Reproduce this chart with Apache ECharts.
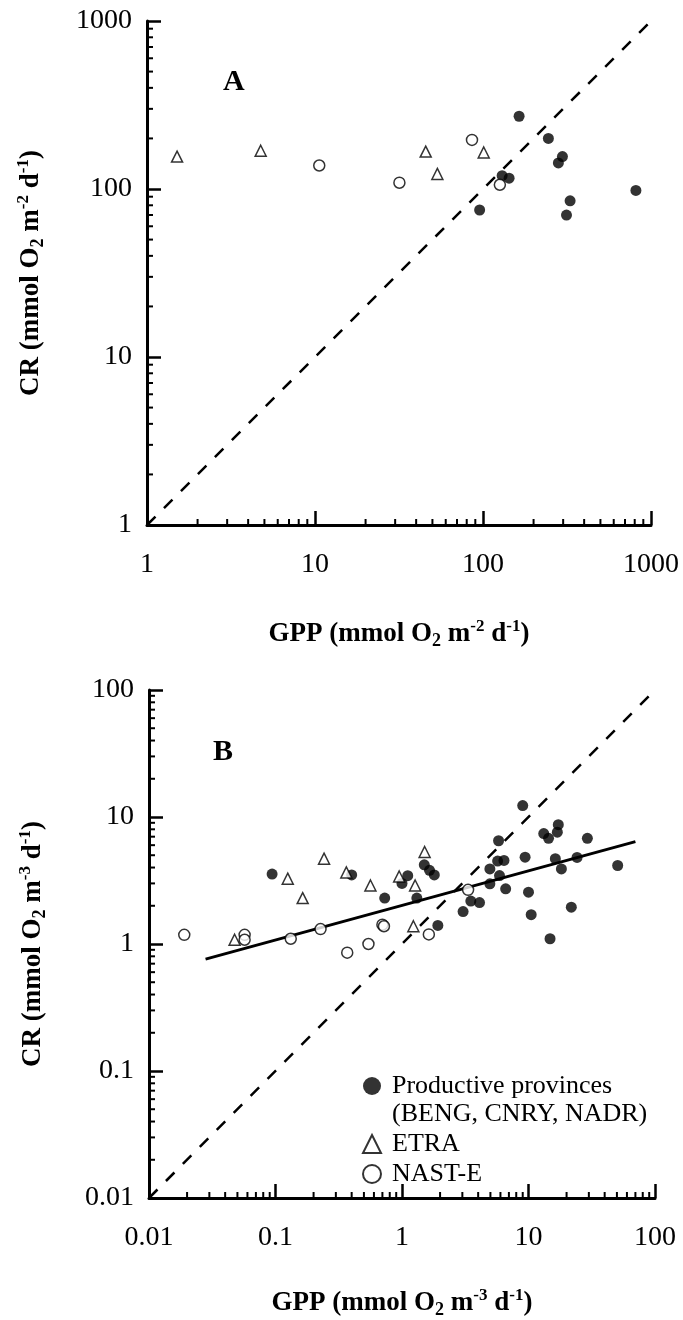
<!DOCTYPE html>
<html>
<head>
<meta charset="utf-8">
<script src="https://cdn.jsdelivr.net/npm/echarts@6/dist/echarts.min.js"></script>
<style>
  html, body { margin: 0; padding: 0; background: #fff; }
  #chart { width: 683px; height: 1320px; }
</style>
</head>
<body>
<div id="chart"></div>
<script>
// panel A: areal rates (mmol O2 m-2 d-1), [GPP, CR]
const prodA = [[164, 271], [245, 200], [281, 143], [297, 156], [130, 120], [143, 116],
  [95.5, 75], [330, 85], [314, 70], [813, 98]];
const etraA = [[1.51, 156], [4.75, 169], [45.6, 167], [101, 165], [53.5, 123]];
const nastA = [[10.6, 138], [31.8, 109], [86, 196], [126, 106]];
const oneToOneA = [[1, 1], [1000, 1000]];

// panel B: volumetric rates (mmol O2 m-3 d-1), [GPP, CR]
const prodB = [[0.094, 3.55], [0.40, 3.5], [0.73, 2.3], [1.0, 3.0], [1.11, 3.45], [1.31, 2.3],
  [1.5, 4.2], [1.65, 3.8], [1.8, 3.5], [1.92, 1.4], [3.04, 1.8], [3.5, 2.18], [4.1, 2.12],
  [4.95, 2.98], [4.95, 3.9], [5.7, 4.5], [5.8, 6.5], [5.9, 3.46], [6.4, 4.55], [6.6, 2.72],
  [9.0, 12.3], [9.4, 4.83], [10.0, 2.56], [10.5, 1.7], [13.2, 7.4], [14.4, 6.8], [14.8, 1.1],
  [16.3, 4.7], [16.9, 7.6], [17.2, 8.7], [18.2, 3.9], [21.8, 1.95], [24.2, 4.8], [29.2, 6.8],
  [50.7, 4.15]];
const etraB = [[0.0475, 1.08], [0.125, 3.27], [0.164, 2.3], [0.242, 4.7], [0.363, 3.66],
  [0.563, 2.89], [0.95, 3.4], [1.27, 2.89], [1.51, 5.3], [1.23, 1.38]];
const nastB = [[0.019, 1.18], [0.057, 1.18], [0.057, 1.08], [0.132, 1.10], [0.227, 1.31],
  [0.369, 0.855], [0.543, 1.0], [0.70, 1.42], [0.72, 1.38], [1.63, 1.19], [3.33, 2.67]];
const oneToOneB = [[0.01, 0.01], [100, 100]];
const fitB = [[0.028, 0.76], [70, 6.4]];

const tickLabelsA = ['1', '10', '100', '1000'];
const tickLabelsB = ['0.01', '0.1', '1', '10', '100'];

const SERIF = '"Liberation Serif", "DejaVu Serif", serif';
const chart = echarts.init(document.getElementById('chart'));

// minor tick values 2..9 in each decade between lo and hi
function minorValues(lo, hi) {
  const out = [];
  for (let d = lo; d < hi * 0.99; d *= 10) {
    for (let k = 2; k <= 9; k++) out.push(+(d * k).toPrecision(3));
  }
  return out;
}

const nameRich = {
  t: { fontFamily: SERIF, fontWeight: 'bold', fontSize: 27, color: '#000' },
  sub: { fontFamily: SERIF, fontWeight: 'bold', fontSize: 18, color: '#000', padding: [14, 0, 0, 0] },
  sup: { fontFamily: SERIF, fontWeight: 'bold', fontSize: 17, color: '#000', padding: [0, 0, 14, 0] }
};

function logAxis(gridIndex, min, max, labels, name, nameGap, vertical) {
  return {
    type: 'log',
    logBase: 10,
    gridIndex: gridIndex,
    min: min,
    max: max,
    splitNumber: labels.length - 1,
    name: name,
    nameLocation: 'middle',
    nameGap: nameGap,
    nameRotate: vertical ? 90 : 0,
    nameTextStyle: { rich: nameRich },
    axisLine: { lineStyle: { color: '#000', width: 3 } },
    axisTick: { inside: true, length: 14, lineStyle: { color: '#000', width: 2.5 } },
    splitLine: { show: false },
    axisLabel: {
      fontFamily: SERIF,
      fontSize: 28,
      color: '#000',
      margin: vertical ? 15 : 26,
      formatter: (v) => labels[Math.round(Math.log10(v / min))]
    }
  };
}

function minorTicks(xi, yi, values, dir, xMin, yMin) {
  return {
    type: 'custom',
    xAxisIndex: xi,
    yAxisIndex: yi,
    silent: true,
    clip: false,
    z: 5,
    data: values.map((v) => (dir === 'x' ? [v, yMin] : [xMin, v])),
    renderItem: (params, api) => {
      const p = api.coord([api.value(0), api.value(1)]);
      const len = 6;
      return {
        type: 'line',
        shape: { x1: p[0], y1: p[1], x2: dir === 'x' ? p[0] : p[0] + len, y2: dir === 'x' ? p[1] - len : p[1] },
        style: { stroke: '#000', lineWidth: 2 }
      };
    }
  };
}

function scatter(name, xi, data, kind) {
  const filled = kind === 'prod';
  return {
    name: name,
    type: 'scatter',
    xAxisIndex: xi,
    yAxisIndex: xi,
    data: data,
    symbol: kind === 'etra' ? 'triangle' : 'circle',
    symbolSize: 11,
    itemStyle: {
      color: filled ? '#000' : '#fff',
      borderColor: '#000',
      borderWidth: filled ? 0 : 1.5
    },
    z: 3
  };
}

function dashed(xi, data) {
  return {
    type: 'line', xAxisIndex: xi, yAxisIndex: xi, data: data,
    symbol: 'none', silent: true, z: 2,
    lineStyle: { color: '#000', width: 2.5, type: [12, 12] }
  };
}

const gppA = '{t|GPP (mmol O}{sub|2}{t| m}{sup|-2}{t| d}{sup|-1}{t|)}';
const crA = '{t|CR (mmol O}{sub|2}{t| m}{sup|-2}{t| d}{sup|-1}{t|)}';
const gppB = '{t|GPP (mmol O}{sub|2}{t| m}{sup|-3}{t| d}{sup|-1}{t|)}';
const crB = '{t|CR (mmol O}{sub|2}{t| m}{sup|-3}{t| d}{sup|-1}{t|)}';

const legendText = {
  'Productive provinces': '{s| }\n{s| }Productive provinces\n{s| }(BENG, CNRY, NADR)',
  'ETRA': '{s| }ETRA',
  'NAST-E': '{s| }NAST-E'
};

const option = {
  animation: false,
  backgroundColor: '#fff',
  title: [
    { text: 'A', left: 218, top: 62, textStyle: { fontFamily: SERIF, fontWeight: 'bold', fontSize: 30, color: '#000' } },
    { text: 'B', left: 208, top: 732, textStyle: { fontFamily: SERIF, fontWeight: 'bold', fontSize: 30, color: '#000' } }
  ],
  grid: [
    { left: 147, top: 21, width: 504, height: 504 },
    { left: 149, top: 690, width: 506, height: 512 }
  ],
  xAxis: [
    logAxis(0, 1, 1000, tickLabelsA, gppA, 93, false),
    logAxis(1, 0.01, 100, tickLabelsB, gppB, 89, false)
  ],
  yAxis: [
    logAxis(0, 1, 1000, tickLabelsA, crA, 100, true),
    logAxis(1, 0.01, 100, tickLabelsB, crB, 100, true)
  ],
  legend: {
    orient: 'vertical',
    left: 357,
    top: 1039,
    itemWidth: 18,
    itemHeight: 18,
    itemGap: 2,
    selectedMode: false,
    textStyle: {
      fontFamily: SERIF, fontSize: 26, color: '#000', lineHeight: 28,
      rich: { s: { width: 6, fontSize: 26, lineHeight: 28 } }
    },
    data: ['Productive provinces', 'ETRA', 'NAST-E'],
    formatter: (n) => legendText[n]
  },
  series: [
    dashed(0, oneToOneA),
    scatter('Productive provinces', 0, prodA, 'prod'),
    scatter('ETRA', 0, etraA, 'etra'),
    scatter('NAST-E', 0, nastA, 'nast'),
    minorTicks(0, 0, minorValues(1, 1000), 'x', 1, 1),
    minorTicks(0, 0, minorValues(1, 1000), 'y', 1, 1),

    dashed(1, oneToOneB),
    {
      type: 'line', xAxisIndex: 1, yAxisIndex: 1, data: fitB,
      symbol: 'none', silent: true, z: 2,
      lineStyle: { color: '#000', width: 3 }
    },
    scatter('Productive provinces', 1, prodB, 'prod'),
    scatter('ETRA', 1, etraB, 'etra'),
    scatter('NAST-E', 1, nastB, 'nast'),
    minorTicks(1, 1, minorValues(0.01, 100), 'x', 0.01, 0.01),
    minorTicks(1, 1, minorValues(0.01, 100), 'y', 0.01, 0.01)
  ]
};

chart.setOption(option);
</script>
</body>
</html>
